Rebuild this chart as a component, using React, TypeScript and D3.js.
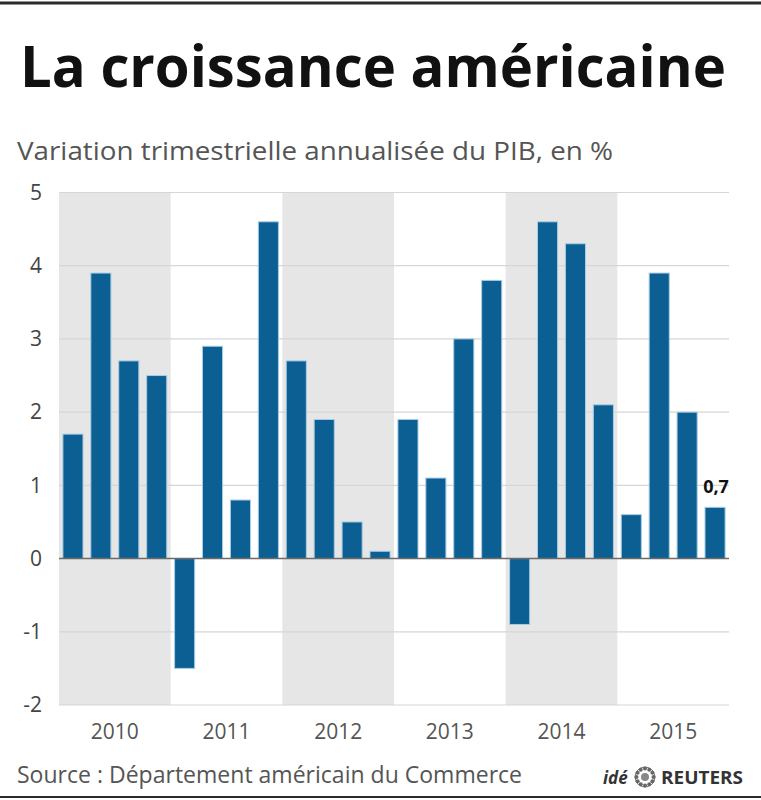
import React from "react";
import * as d3 from "d3";

const years = ["2010", "2011", "2012", "2013", "2014", "2015"];
const quarters = years.flatMap((y) => ["T1", "T2", "T3", "T4"].map((q) => `${y}${q}`));
const values = [1.7, 3.9, 2.7, 2.5, -1.5, 2.9, 0.8, 4.6, 2.7, 1.9, 0.5, 0.1, 1.9, 1.1, 3.0, 3.8, -0.9, 4.6, 4.3, 2.1, 0.6, 3.9, 2.0, 0.7];
const yTicks = [-2, -1, 0, 1, 2, 3, 4, 5];
const shadedYears = ["2010", "2012", "2014"];
const title = "La croissance américaine";
const subtitle = "Variation trimestrielle annualisée du PIB, en %";
const source = "Source : Département américain du Commerce";
const lastLabel = "0,7";

const FONT = "'Open Sans', 'Noto Sans', sans-serif";

export default function App() {
  const W = 761, H = 800;
  const left = 59, right = 729, top = 192.5, bottom = 705;
  const x = d3.scaleBand<string>().domain(quarters).range([left, right]).paddingInner(0.28).paddingOuter(0.14);
  const xYear = d3.scaleBand<string>().domain(years).range([left, right]).padding(0);
  const y = d3.scaleLinear().domain([-2, 5]).range([bottom, top]);
  const lastQ = quarters[quarters.length - 1];
  const lastV = values[values.length - 1];

  const gear = d3.range(12).map((i) => {
    const a = (i / 12) * Math.PI * 2;
    return { cx: Math.cos(a) * 8.5, cy: Math.sin(a) * 8.5 };
  });

  return (
    <svg width={W} height={H} style={{ position: "absolute", left: 0, top: 0, background: "#fff" }} fontFamily={FONT}>
      <rect x={0} y={0} width={W} height={H} fill="#fff" />
      <line x1={0} x2={W} y1={3} y2={3} stroke="#2b2b2b" strokeWidth={3} />
      <text x={20} y={87} fontSize={57} fontWeight={700} fill="#111" textLength={706} lengthAdjust="spacingAndGlyphs">{title}</text>
      <text x={17} y={160} fontSize={25} fill="#555" textLength={596} lengthAdjust="spacingAndGlyphs">{subtitle}</text>

      {shadedYears.map((yr) => (
        <rect key={yr} x={xYear(yr)} y={top} width={xYear.bandwidth()} height={bottom - top} fill="#e6e6e6" />
      ))}
      {yTicks.filter((t) => t !== 0).map((t) => (
        <line key={t} x1={left} x2={right} y1={y(t)} y2={y(t)} stroke="#d6d6d6" strokeWidth={1.2} />
      ))}
      {yTicks.map((t) => (
        <text key={"l" + t} x={42} y={y(t)} dy="0.35em" textAnchor="end" fontSize={21} fill="#444">{t}</text>
      ))}
      {quarters.map((q, i) => {
        const v = values[i];
        return (
          <rect key={q} x={x(q)} y={Math.min(y(v), y(0))} width={x.bandwidth()} height={Math.abs(y(v) - y(0))}
            fill="#0b5f93" stroke="#a9cde3" strokeWidth={1} />
        );
      })}
      <line x1={left} x2={right} y1={y(0)} y2={y(0)} stroke="#6b6b6b" strokeWidth={1.5} />
      {years.map((yr) => (
        <text key={"y" + yr} x={(xYear(yr) as number) + xYear.bandwidth() / 2} y={739} textAnchor="middle" fontSize={21} fill="#555">{yr}</text>
      ))}
      <text x={(x(lastQ) as number) + x.bandwidth() / 2 + 1} y={y(lastV) - 14} textAnchor="middle" fontSize={18} fontWeight={700} fill="#111">{lastLabel}</text>

      <text x={17} y={783} fontSize={24} fill="#555" textLength={505} lengthAdjust="spacingAndGlyphs">{source}</text>
      <text x={603} y={784} fontSize={17} fontWeight={700} fontStyle="italic" fill="#333">idé</text>
      <g transform="translate(645,777)">
        <circle r={10} fill="none" stroke="#777" strokeWidth={1} />
        {gear.map((g, i) => (
          <circle key={i} cx={g.cx} cy={g.cy} r={2} fill="#666" />
        ))}
        <circle r={4} fill="#888" />
      </g>
      <text x={661} y={784} fontSize={18} fontWeight={700} fill="#333" textLength={82} lengthAdjust="spacingAndGlyphs">REUTERS</text>
      <line x1={0} x2={W} y1={797} y2={797} stroke="#2b2b2b" strokeWidth={2} />
    </svg>
  );
}
